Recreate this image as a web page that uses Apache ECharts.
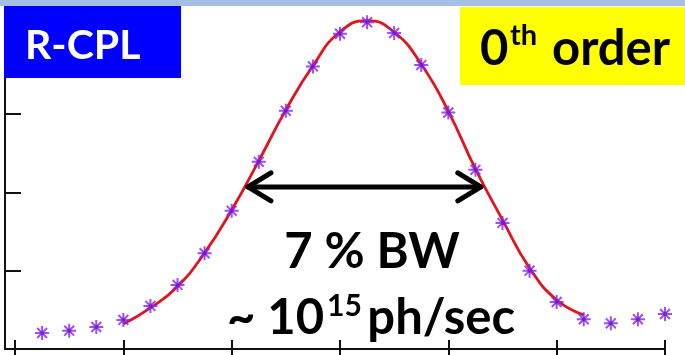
<!DOCTYPE html>
<html>
<head>
<meta charset="utf-8">
<script src="https://cdn.jsdelivr.net/npm/echarts@6/dist/echarts.min.js"></script>
<style>
html,body{margin:0;padding:0;background:#fff;}
#c{width:685px;height:355px;}
</style>
</head>
<body>
<div id="c"></div>
<script>
// Measured points (x in step index, y in axis units; y-ticks every 1 unit)
const markerX = [1,2,3,4,5,6,7,8,9,10,11,12,13,14,15,16,17,18,19,20,21,22,23,24];
const markerY = [0.204,0.234,0.281,0.371,0.55,0.818,1.223,1.764,2.39,3.042,3.608,4.026,4.173,4.035,3.626,3.02,2.288,1.61,1.0,0.6,0.38,0.328,0.38,0.447];
const fitX = [4,5,6,7,8,9,10,11,12,13,14,15,16,17,18,19,20,21];
const fitY = [0.319,0.524,0.799,1.227,1.776,2.403,3.054,3.617,4.051,4.192,4.045,3.636,3.035,2.3,1.649,1.035,0.626,0.435];
const xTicks = [0,4,8,12,16,20,24];
const yTicks = [1,2,3,4];
// FWHM arrow: [x start, x end, y level]
const fwhm = [8.6, 17.2, 2.07];

const chart = echarts.init(document.getElementById('c'));
const markers = markerX.map((x,i)=>[x, markerY[i]]);
const fit = fitX.map((x,i)=>[x, fitY[i]]);
const AX = '#111';
const asterisk = 'path://M6 0L6 12M0 6L12 6M1.76 1.76L10.24 10.24M10.24 1.76L1.76 10.24';

chart.setOption({
  animation:false,
  grid:{left:5,right:20,top:6,bottom:6},
  xAxis:[
    {type:'value',min:-0.37,max:24,position:'bottom',
     axisLine:{show:true,onZero:false,lineStyle:{color:AX,width:2}},
     axisTick:{show:true,inside:true,length:9,customValues:xTicks,lineStyle:{color:AX,width:2}},
     axisLabel:{show:false},splitLine:{show:false}},
    {type:'value',min:-0.37,max:24,position:'bottom',
     axisLine:{show:false,onZero:false},
     axisTick:{show:true,inside:false,length:8,customValues:xTicks,lineStyle:{color:AX,width:2}},
     axisLabel:{show:false},splitLine:{show:false}}
  ],
  yAxis:{type:'value',min:0,max:4.38,
     axisLine:{show:true,onZero:false,lineStyle:{color:AX,width:2}},
     axisTick:{show:true,inside:true,length:16,customValues:yTicks,lineStyle:{color:AX,width:2}},
     axisLabel:{show:false},splitLine:{show:false}},
  series:[
    {type:'line',data:fit,smooth:true,showSymbol:false,symbol:'none',
     lineStyle:{color:'#e0141c',width:2.8},z:2},
    {type:'scatter',data:markers,symbol:asterisk,symbolSize:14,
     itemStyle:{color:'rgba(0,0,0,0)',borderColor:'#8424ea',borderWidth:2},z:3},
    {type:'scatter',data:markers,symbol:'circle',symbolSize:4,
     itemStyle:{color:'#6e14d0'},z:4}
  ]
});

const p1 = chart.convertToPixel({gridIndex:0},[fwhm[0],fwhm[2]]);
const p2 = chart.convertToPixel({gridIndex:0},[fwhm[1],fwhm[2]]);
const FONT = 'Lato';
const big = 49;
function txt(text,x,y,size,color,align,extra){
  return Object.assign({type:'text',x:x,y:y,z:100,style:{text:text,fill:color,font:'bold '+size+'px '+FONT,textAlign:align||'left',textVerticalAlign:'top'}},extra||{});
}
chart.setOption({graphic:[
  {type:'rect',shape:{x:0,y:0,width:685,height:6},style:{fill:'#a6bee6'},z:90},
  {type:'rect',shape:{x:4,y:6,width:177,height:72},style:{fill:'#0000ff'},z:90},
  {type:'rect',shape:{x:460,y:7,width:225,height:78},style:{fill:'#ffff00'},z:90},
  txt('R-CPL',25,25,41,'#ffffff'),
  txt('0',480,25,big,'#000'),
  txt('th',510,21,29,'#000'),
  txt('order',670,25,big,'#000','right'),
  txt('7 % BW',372,228,big,'#000','center'),
  txt('~ 10',227,294,big,'#000'),
  txt('15',327,291,30,'#000'),
  txt('ph/sec',515,294,big,'#000','right'),
  {type:'polyline',z:95,shape:{points:[p1,p2]},style:{stroke:'#000',lineWidth:5,lineCap:'round'}},
  {type:'polyline',z:95,shape:{points:[[p1[0]+23,p1[1]-14],p1,[p1[0]+23,p1[1]+14]]},style:{stroke:'#000',lineWidth:5,lineCap:'round',lineJoin:'round',fill:null}},
  {type:'polyline',z:95,shape:{points:[[p2[0]-23,p2[1]-14],p2,[p2[0]-23,p2[1]+14]]},style:{stroke:'#000',lineWidth:5,lineCap:'round',lineJoin:'round',fill:null}}
]});
</script>
</body>
</html>
